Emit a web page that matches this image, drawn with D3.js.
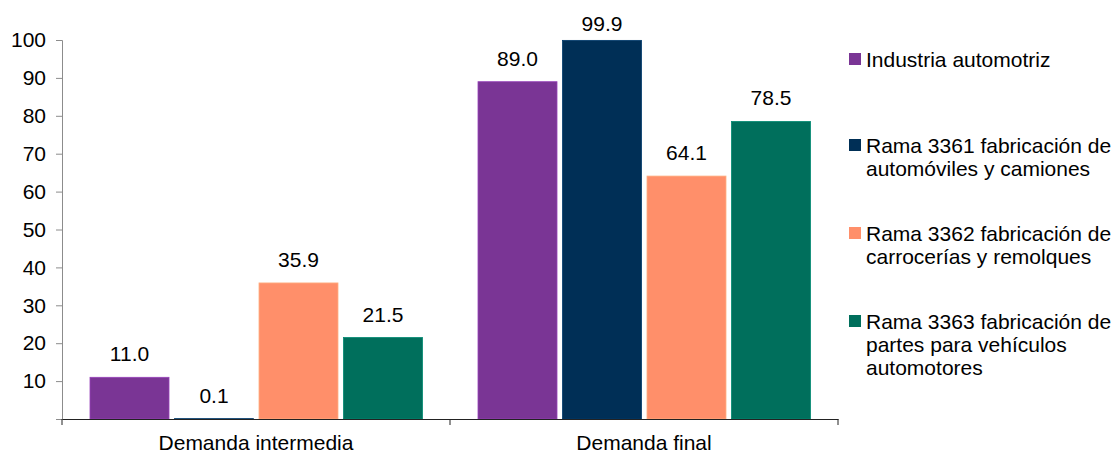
<!DOCTYPE html>
<html>
<head>
<meta charset="utf-8">
<script src="https://cdn.jsdelivr.net/npm/d3@7"></script>
<style>
  body { margin: 0; background: #fff; }
  svg text { font-family: Arial, "Liberation Sans", sans-serif; fill: #000; }
</style>
</head>
<body>
<div id="chart"></div>
<script>
const categories = ["Demanda intermedia", "Demanda final"];
const series = [
  "Industria automotriz",
  "Rama 3361 fabricación de automóviles y camiones",
  "Rama 3362 fabricación de carrocerías y remolques",
  "Rama 3363 fabricación de partes para vehículos automotores"
];
const intermedia = [11.0, 0.1, 35.9, 21.5];
const final = [89.0, 99.9, 64.1, 78.5];
const yTicks = [10, 20, 30, 40, 50, 60, 70, 80, 90, 100];
const legendLines = [
  ["Industria automotriz"],
  ["Rama 3361 fabricación de", "automóviles y camiones"],
  ["Rama 3362 fabricación de", "carrocerías y remolques"],
  ["Rama 3363 fabricación de", "partes para vehículos", "automotores"]
];
const colors = ["#7a3595", "#002f56", "#ff8f6a", "#006f5c"];

const width = 1116, height = 453;
const margin = { left: 62, right: 278, top: 40, bottom: 34 };
const fs = 21;

const svg = d3.select("#chart")
  .append("svg")
  .attr("width", width)
  .attr("height", height);

const x0 = d3.scaleBand()
  .domain(categories)
  .range([margin.left, width - margin.right]);

const x1 = d3.scaleBand()
  .domain(series)
  .range([28, 360.5])
  .paddingInner(0.065);

const y = d3.scaleLinear()
  .domain([0, 100])
  .range([height - margin.bottom, margin.top]);

const color = d3.scaleOrdinal().domain(series).range(colors);

const rows = [intermedia, final].map((vals, i) => ({
  cat: categories[i],
  values: vals.map((v, j) => ({ key: series[j], value: v }))
}));

// y axis
const yAxis = svg.append("g")
  .attr("transform", `translate(${margin.left},0)`)
  .call(d3.axisLeft(y).tickValues(yTicks).tickSize(6).tickPadding(10).tickFormat(d3.format("d")));
yAxis.select(".domain").attr("stroke", "#8c8c8c");
yAxis.selectAll(".tick line").attr("stroke", "#8c8c8c");
yAxis.selectAll(".tick text").attr("font-size", fs);

// bars
const groups = svg.append("g")
  .selectAll("g")
  .data(rows)
  .join("g")
  .attr("transform", d => `translate(${x0(d.cat)},0)`);

groups.selectAll("rect")
  .data(d => d.values)
  .join("rect")
  .attr("x", d => x1(d.key))
  .attr("y", d => y(d.value))
  .attr("width", x1.bandwidth())
  .attr("height", d => y(0) - y(d.value))
  .attr("fill", d => color(d.key))
  .attr("stroke", d => d3.color(color(d.key)).brighter(0.6))
  .attr("stroke-width", 0.8);

// labels sit above the bar, but are kept inside the top of the plot
groups.selectAll("text.val")
  .data(d => d.values)
  .join("text")
  .attr("class", "val")
  .attr("x", d => x1(d.key) + x1.bandwidth() / 2)
  .attr("y", d => Math.max(y(d.value) - 16, 31))
  .attr("text-anchor", "middle")
  .attr("font-size", fs)
  .text(d => d3.format(".1f")(d.value));

// x axis
const xAxis = svg.append("g")
  .attr("transform", `translate(0,${y(0)})`)
  .call(d3.axisBottom(x0).tickSize(0).tickPadding(16));
xAxis.select(".domain").attr("stroke", "#222");
xAxis.selectAll(".tick text").attr("font-size", fs);

const boundaries = [margin.left, x0(categories[1]), width - margin.right];
xAxis.selectAll("line.sep")
  .data(boundaries)
  .join("line")
  .attr("class", "sep")
  .attr("x1", d => d).attr("x2", d => d)
  .attr("y1", 0).attr("y2", 6)
  .attr("stroke", "#222");

// legend
const legendY = [67, 153, 241, 329];
const legend = svg.append("g")
  .selectAll("g")
  .data(series)
  .join("g")
  .attr("transform", (d, i) => `translate(849,${legendY[i]})`);

legend.append("rect")
  .attr("x", 0).attr("y", -14)
  .attr("width", 12).attr("height", 12)
  .attr("fill", d => color(d));

legend.append("text")
  .attr("x", 17)
  .attr("y", 0)
  .attr("font-size", fs)
  .selectAll("tspan")
  .data((d, i) => legendLines[i])
  .join("tspan")
  .attr("x", 17)
  .attr("dy", (d, i) => i === 0 ? 0 : 23)
  .text(d => d);
</script>
</body>
</html>
